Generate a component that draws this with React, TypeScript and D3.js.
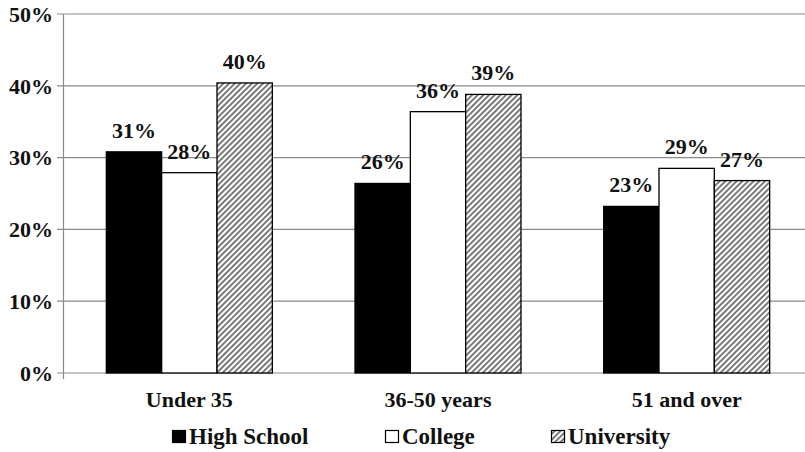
import React from "react";
import * as d3 from "d3";

const categories = ["Under 35", "36-50 years", "51 and over"];
const seriesNames = ["High School", "College", "University"];
const highSchool = [30.8, 26.4, 23.2];
const college = [27.9, 36.4, 28.5];
const university = [40.4, 38.8, 26.8];
const yTicks = [0, 10, 20, 30, 40, 50];

const W = 805, H = 452;
const FONT = "Liberation Serif";

export default function App() {
  const series = [highSchool, college, university];
  const x0 = d3.scaleBand().domain(categories).range([65, 811]).paddingInner(0).paddingOuter(0);
  const groupInner = 166;
  const x1 = d3.scaleBand().domain(seriesNames).range([0, groupInner]).padding(0);
  const y = d3.scaleLinear().domain([0, 50]).range([373, 14]);
  const fills = ["#000000", "#ffffff", "url(#hatch)"];

  return (
    <svg width={W} height={H} style={{ position: "absolute", left: 0, top: 0, background: "#fff" }}>
      <defs>
        <pattern id="hatch" patternUnits="userSpaceOnUse" width="4" height="4" patternTransform="rotate(45)">
          <rect width="4" height="4" fill="#ffffff" />
          <rect width="2" height="4" fill="#7a7a7a" />
        </pattern>
      </defs>
      <rect width={W} height={H} fill="#fff" />
      {yTicks.map((t) => (
        <g key={t}>
          <line x1={57} x2={W} y1={y(t)} y2={y(t)} stroke="#8a8a8a" strokeWidth={1.2} />
          <text x={53} y={y(t)} dy="0.35em" textAnchor="end" style={{ fontFamily: FONT }} fontWeight="bold" fontSize={22} fill="#111">
            {t}%
          </text>
        </g>
      ))}
      <line x1={63.5} x2={63.5} y1={y(50)} y2={y(0) + 6} stroke="#8a8a8a" strokeWidth={1.2} />
      {categories.map((c, ci) => {
        const gx = (x0(c) as number) + (x0.bandwidth() - groupInner) / 2;
        return (
          <g key={c}>
            {seriesNames.map((s, si) => {
              const v = series[si][ci];
              const bx = gx + (x1(s) as number);
              return (
                <g key={s}>
                  <rect x={bx} y={y(v)} width={x1.bandwidth()} height={y(0) - y(v)} fill={fills[si]} stroke="#000" strokeWidth={1.3} />
                  <text x={bx + x1.bandwidth() / 2} y={y(v) - 14} textAnchor="middle" style={{ fontFamily: FONT }} fontWeight="bold" fontSize={22} fill="#111">
                    {Math.round(v)}%
                  </text>
                </g>
              );
            })}
            <text x={(x0(c) as number) + x0.bandwidth() / 2} y={407} textAnchor="middle" style={{ fontFamily: FONT }} fontWeight="bold" fontSize={22} fill="#111">
              {c}
            </text>
          </g>
        );
      })}
      {seriesNames.map((s, si) => {
        const lx = [172, 385, 551][si];
        return (
          <g key={s}>
            <rect x={lx + 0.5} y={430.5} width={13} height={12} fill={fills[si]} stroke="#000" strokeWidth={1.2} />
            <text x={lx + 17} y={444} style={{ fontFamily: FONT }} fontWeight="bold" fontSize={23} fill="#111">
              {s}
            </text>
          </g>
        );
      })}
    </svg>
  );
}
